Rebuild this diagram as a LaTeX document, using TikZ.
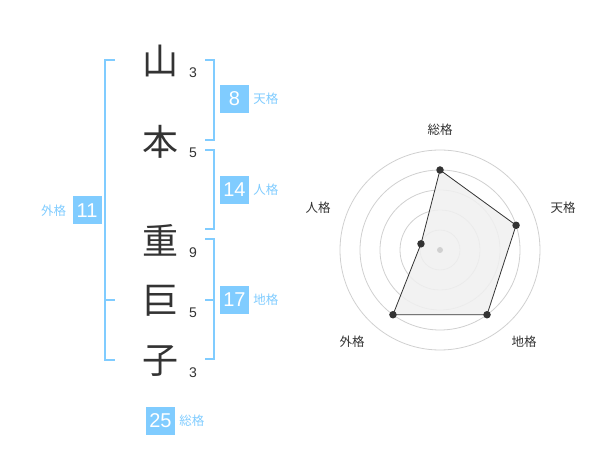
\documentclass[tikz,border=0pt]{standalone}
\usepackage{fontspec}
\setmainfont{Liberation Sans}
\newfontfamily\jp{Noto Sans CJK JP}
\usepackage{tikz}
\usetikzlibrary{positioning}
\definecolor{kaku}{RGB}{128,204,255}
\definecolor{ink}{RGB}{51,51,51}
\definecolor{ring}{RGB}{208,208,208}
\definecolor{area}{RGB}{240,240,240}

\begin{document}
\begin{tikzpicture}[x=1pt, y=-1pt, node distance=0pt,
    kanji/.style={font=\jp\fontsize{36}{36}\selectfont, text=ink, inner sep=0pt},
    strokes/.style={font=\fontsize{14}{14}\selectfont, text=ink, inner sep=0pt},
    numbox/.style={fill=kaku, text=white, minimum width=29pt, minimum height=28pt, inner sep=0pt, font=\fontsize{20}{20}\selectfont},
    kakulabel/.style={font=\jp\fontsize{12.5}{12.5}\selectfont, text=kaku, inner sep=0pt},
    brace/.style={draw=kaku, line width=2pt},
    ringline/.style={draw=ring, line width=0.8pt},
    axislabel/.style={font=\jp\fontsize{12.5}{12.5}\selectfont, text=ink, inner sep=0pt},
    dot/.style={circle, fill=ink, inner sep=0pt, minimum size=7.5pt}]

    \useasboundingbox (0,0) rectangle (600,470);

    % Name
    \node (k1) [kanji] at (160,61) {山};
    \node (k2) [kanji] at (160,142) {本};
    \node (k3) [kanji] at (160,240) {重};
    \node (k4) [kanji] at (160,301) {巨};
    \node (k5) [kanji] at (160,361) {子};

    % Strokes
    \node (s1) [strokes] at (193,73) {3};
    \node (s2) [strokes] at (193,153) {5};
    \node (s3) [strokes] at (193,253) {9};
    \node (s4) [strokes] at (193,313) {5};
    \node (s5) [strokes] at (193,373) {3};

    % Brackets
    \draw[brace] (115,60) -- (105,60) -- (105,360) -- (115,360);
    \draw[brace] (105,300) -- (115,300);
    \draw[brace] (205,60) -- (214,60) -- (214,140) -- (205,140);
    \draw[brace] (205,150) -- (214,150) -- (214,229) -- (205,229);
    \draw[brace] (205,239) -- (214,239) -- (214,359) -- (205,359);
    \draw[brace] (214,300) -- (205,300);

    % Boxes
    \node (ten) [numbox] at (234.5,99) {8};
    \node (jin) [numbox] at (234.5,190) {14};
    \node (chi) [numbox] at (234.5,300) {17};
    \node (gai) [numbox] at (87,210.5) {11};
    \node (sou) [numbox] at (160.5,421) {25};
    \node (tenl) [kakulabel, right=4pt of ten] {天格};
    \node (jinl) [kakulabel, right=4pt of jin] {人格};
    \node (chil) [kakulabel, right=4pt of chi] {地格};
    \node (gail) [kakulabel, left=6pt of gai] {外格};
    \node (soul) [kakulabel, right=4pt of sou] {総格};

    % Radar
    \begin{scope}[shift={(440,250)}, y=1pt]
        \foreach \r in {20,40,60,80,100}
            \draw[ringline] (0,0) circle[radius=\r pt];

        \coordinate (vs) at (90:80);
        \coordinate (vt) at (18:80);
        \coordinate (vc) at (-54:80);
        \coordinate (vg) at (-126:80);
        \coordinate (vj) at (162:20);
        \draw[fill=area, fill opacity=0.85, draw=ink, line width=0.8pt] (vs) -- (vt) -- (vc) -- (vg) -- (vj) -- cycle;
        \node (mid) [circle, fill=ring, inner sep=0pt, minimum size=6pt] at (0,0) {};
        \foreach \v in {vs,vt,vc,vg,vj}
            \node (d\v) [dot] at (\v) {};

        \node (as) [axislabel] at (0,120) {総格};
        \node (at) [axislabel] at (123,42) {天格};
        \node (ac) [axislabel] at (84,-92) {地格};
        \node (ag) [axislabel] at (-88,-92) {外格};
        \node (aj) [axislabel] at (-122,42) {人格};
    \end{scope}

\end{tikzpicture}
\end{document}
